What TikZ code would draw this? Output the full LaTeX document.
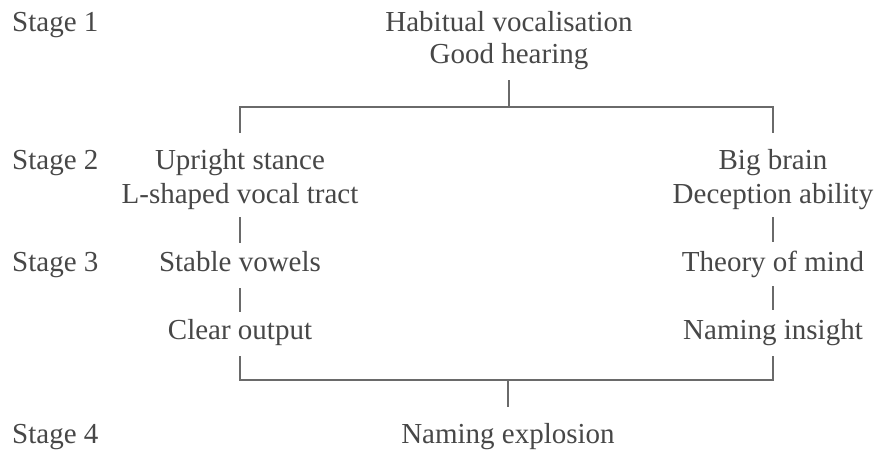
\documentclass[tikz,border=0pt]{standalone}
\usepackage{fontspec}
\setmainfont{Liberation Serif}
\definecolor{txt}{HTML}{474747}
\definecolor{ln}{HTML}{6A6A6A}
\begin{document}
\begin{tikzpicture}[x=1pt,y=-1pt,
  lbl/.style={anchor=base, inner sep=0pt, text height=20pt, text depth=6pt,
              font=\fontsize{29}{34}\selectfont, text=txt},
  stagelbl/.style={lbl, anchor=base west},
  conn/.style={draw=ln, line width=1.1pt}]
\useasboundingbox[fill=white] (0,0) rectangle (879,452);
% stage labels
\node[stagelbl] (s1) at (12,32) {Stage 1};
\node[stagelbl] (s2) at (12,169) {Stage 2};
\node[stagelbl] (s3) at (12,271) {Stage 3};
\node[stagelbl] (s4) at (12,443) {Stage 4};
% content
\node[lbl] (hv) at (509,32) {Habitual vocalisation};
\node[lbl] (gh) at (509,64) {Good hearing};
\node[lbl] (us) at (240,169) {Upright stance};
\node[lbl] (lv) at (240,203) {L-shaped vocal tract};
\node[lbl] (bb) at (773,169) {Big brain};
\node[lbl] (da) at (773,203) {Deception ability};
\node[lbl] (sv) at (240,271) {Stable vowels};
\node[lbl] (tm) at (773,271) {Theory of mind};
\node[lbl] (co) at (240,339) {Clear output};
\node[lbl] (ni) at (773,339) {Naming insight};
\node[lbl] (ne) at (508,443) {Naming explosion};
% bracket points
\coordinate (brT) at (508,107);
\coordinate (brB) at (508,380);
% connectors
\draw[conn, shorten <=10pt] (gh.south) -- (gh.south |- brT);
\draw[conn, shorten <=16pt, shorten >=16pt] (us.north) |- (brT) -| (bb.north);
\draw[conn, shorten <=8pt, shorten >=8pt] (lv.south) -- (sv.north);
\draw[conn, shorten <=8pt, shorten >=9pt] (da.south) -- (tm.north);
\draw[conn, shorten <=11pt, shorten >=7pt] (sv.south) -- (co.north);
\draw[conn, shorten <=9pt, shorten >=9pt] (tm.south) -- (ni.north);
\draw[conn, shorten <=11pt, shorten >=11pt] (co.south) |- (brB) -| (ni.south);
\draw[conn, shorten >=16pt] (brB) -- (ne.north);
\end{tikzpicture}
\end{document}
